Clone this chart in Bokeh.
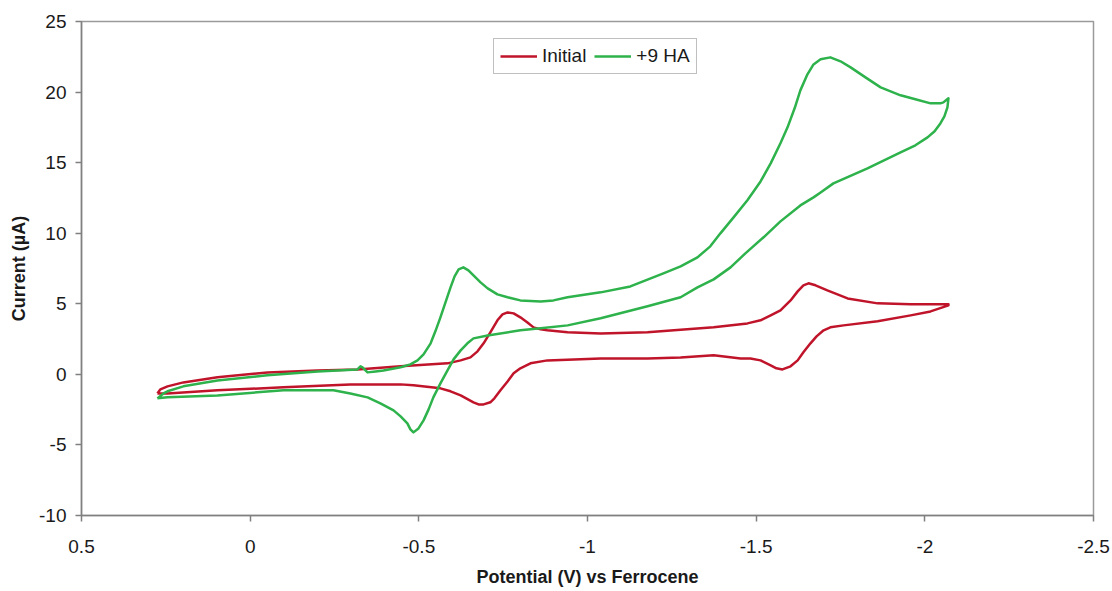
from bokeh.plotting import figure
from bokeh.models import Range1d, FixedTicker, NumeralTickFormatter, Legend, LegendItem
from bokeh.embed import file_html
from bokeh.resources import INLINE

# Cyclic voltammograms: potential (V vs Fc) and current (µA).
# Each trace runs from the positive vertex to -2.07 V and back.
initial_potential = [
    0.275, 0.266, 0.245, 0.198, 0.097, -0.051, -0.200, -0.318, -0.446, -0.585,
    -0.624, -0.653, -0.674, -0.692, -0.712, -0.733, -0.748, -0.763, -0.781, -0.801,
    -0.822, -0.840, -0.861, -0.881, -0.941, -1.039, -1.178, -1.374, -1.474, -1.513,
    -1.543, -1.572, -1.602, -1.623, -1.640, -1.655, -1.676, -1.711, -1.771, -1.860,
    -1.958, -2.070,
    -2.070, -2.017, -1.958, -1.860, -1.759, -1.720, -1.700, -1.679, -1.661, -1.640,
    -1.623, -1.602, -1.578, -1.560, -1.543, -1.513, -1.483, -1.454, -1.374, -1.276,
    -1.178, -1.039, -0.881, -0.831, -0.801, -0.781, -0.763, -0.742, -0.724, -0.712,
    -0.692, -0.677, -0.662, -0.624, -0.594, -0.564, -0.484, -0.446, -0.297, -0.099,
    0.097, 0.245, 0.275,
]
initial_current = [
    -1.35, -1.06, -0.85, -0.57, -0.21, 0.14, 0.28, 0.35, 0.57, 0.78,
    0.99, 1.20, 1.63, 2.20, 2.98, 3.83, 4.25, 4.39, 4.32, 4.04,
    3.68, 3.33, 3.19, 3.12, 2.98, 2.90, 2.98, 3.33, 3.61, 3.83,
    4.18, 4.53, 5.24, 5.88, 6.31, 6.45, 6.31, 5.95, 5.38, 5.03,
    4.96, 4.96,
    4.89, 4.46, 4.18, 3.76, 3.47, 3.33, 3.12, 2.69, 2.20, 1.56,
    0.99, 0.57, 0.35, 0.43, 0.64, 0.99, 1.13, 1.13, 1.35, 1.20,
    1.13, 1.13, 0.99, 0.78, 0.43, 0.07, -0.50, -1.13, -1.70, -1.98,
    -2.13, -2.13, -1.98, -1.49, -1.20, -0.99, -0.78, -0.71, -0.71, -0.92,
    -1.13, -1.35, -1.35,
]

ha_potential = [
    0.275, 0.257, 0.245, 0.198, 0.097, -0.051, -0.200, -0.318, -0.327, -0.333,
    -0.348, -0.372, -0.395, -0.446, -0.475, -0.496, -0.514, -0.535, -0.549, -0.564,
    -0.579, -0.594, -0.606, -0.618, -0.632, -0.647, -0.662, -0.683, -0.704, -0.733,
    -0.763, -0.801, -0.861, -0.899, -0.941, -1.039, -1.127, -1.225, -1.276, -1.326,
    -1.364, -1.394, -1.433, -1.474, -1.513, -1.543, -1.572, -1.593, -1.614, -1.631,
    -1.652, -1.670, -1.691, -1.720, -1.750, -1.780, -1.824, -1.869, -1.928, -1.972,
    -2.017, -2.046, -2.055, -2.070,
    -2.067, -2.058, -2.046, -2.029, -2.008, -1.972, -1.928, -1.830, -1.729, -1.691,
    -1.670, -1.631, -1.572, -1.522, -1.468, -1.424, -1.374, -1.326, -1.276, -1.178,
    -1.039, -0.941, -0.861, -0.801, -0.704, -0.662, -0.644, -0.624, -0.603, -0.585,
    -0.564, -0.543, -0.529, -0.514, -0.499, -0.484, -0.475, -0.466, -0.446, -0.425,
    -0.386, -0.348, -0.297, -0.247, -0.099, 0.097, 0.245, 0.275,
]
ha_current = [
    -1.70, -1.35, -1.20, -0.85, -0.43, -0.07, 0.21, 0.35, 0.57, 0.50,
    0.14, 0.21, 0.28, 0.50, 0.71, 0.99, 1.42, 2.20, 3.05, 4.04,
    5.10, 6.16, 6.94, 7.44, 7.58, 7.37, 7.01, 6.52, 6.09, 5.67,
    5.46, 5.24, 5.17, 5.24, 5.46, 5.81, 6.23, 7.16, 7.65, 8.29,
    9.07, 9.99, 11.12, 12.33, 13.67, 14.95, 16.37, 17.50, 18.85, 20.12,
    21.26, 21.96, 22.32, 22.46, 22.18, 21.75, 21.04, 20.33, 19.77, 19.49,
    19.20, 19.20, 19.27, 19.56,
    18.92, 18.28, 17.78, 17.22, 16.79, 16.23, 15.73, 14.60, 13.53, 12.89,
    12.54, 11.97, 10.84, 9.71, 8.57, 7.58, 6.73, 6.16, 5.46, 4.82,
    3.97, 3.47, 3.26, 3.12, 2.76, 2.55, 2.20, 1.70, 1.06, 0.28,
    -0.64, -1.63, -2.48, -3.26, -3.83, -4.11, -3.90, -3.47, -2.98, -2.55,
    -2.05, -1.63, -1.35, -1.13, -1.13, -1.49, -1.63, -1.70,
]

series_names = ["Initial", "+9 HA"]
x_ticks = [0.5, 0, -0.5, -1, -1.5, -2, -2.5]
y_ticks = [-10, -5, 0, 5, 10, 15, 20, 25]

FONT = "Liberation Sans"
AXIS_GREY = "#808080"
RED = "#C0142A"
GREEN = "#2EB24B"

p = figure(
    width=1112, height=591,
    x_range=Range1d(x_ticks[0], x_ticks[-1]),
    y_range=Range1d(y_ticks[0], y_ticks[-1]),
    output_backend="svg", toolbar_location=None,
    min_border_left=81, min_border_right=19,
    min_border_top=21, min_border_bottom=76,
)
p.background_fill_color = "white"
p.border_fill_color = "white"
p.outline_line_color = "#9a9a9a"
p.outline_line_width = 1.5
p.xgrid.visible = False
p.ygrid.visible = False

for ax, ticks, fmt in ((p.xaxis[0], x_ticks, "0.[0]"), (p.yaxis[0], y_ticks, "0")):
    ax.ticker = FixedTicker(ticks=ticks)
    ax.formatter = NumeralTickFormatter(format=fmt)
    ax.minor_tick_line_color = None
    ax.major_tick_in = 0
    ax.major_tick_out = 6
    ax.axis_line_color = AXIS_GREY
    ax.axis_line_width = 1.5
    ax.major_tick_line_color = AXIS_GREY
    ax.major_tick_line_width = 1.5
    ax.major_label_text_font = FONT
    ax.major_label_text_font_size = "19px"
    ax.major_label_text_color = "#1a1a1a"
    ax.axis_label_text_font = FONT
    ax.axis_label_text_font_size = "18px"
    ax.axis_label_text_font_style = "bold"
    ax.axis_label_text_color = "#1a1a1a"

p.xaxis.axis_label = "Potential (V) vs Ferrocene"
p.yaxis.axis_label = "Current (µA)"
p.xaxis.major_label_standoff = 18
p.xaxis.axis_label_standoff = 11
p.yaxis.major_label_standoff = 9
p.yaxis.axis_label_standoff = 7

r_init = p.line(initial_potential, initial_current, line_color=RED, line_width=2.5,
                line_join="round")
r_ha = p.line(ha_potential, ha_current, line_color=GREEN, line_width=2.5,
              line_join="round")

legend = Legend(
    items=[LegendItem(label=series_names[0], renderers=[r_init]),
           LegendItem(label=series_names[1], renderers=[r_ha])],
    orientation="horizontal",
    location=(412, 441),
    label_text_font=FONT,
    label_text_font_size="19px",
    label_text_color="#1a1a1a",
    glyph_width=37, glyph_height=20,
    label_standoff=5, spacing=8, padding=6, margin=0,
    border_line_color="#808080", border_line_width=1,
    background_fill_color="white", background_fill_alpha=1.0,
)
p.add_layout(legend, "center")

open("out.html", "w").write(file_html(p, INLINE))
